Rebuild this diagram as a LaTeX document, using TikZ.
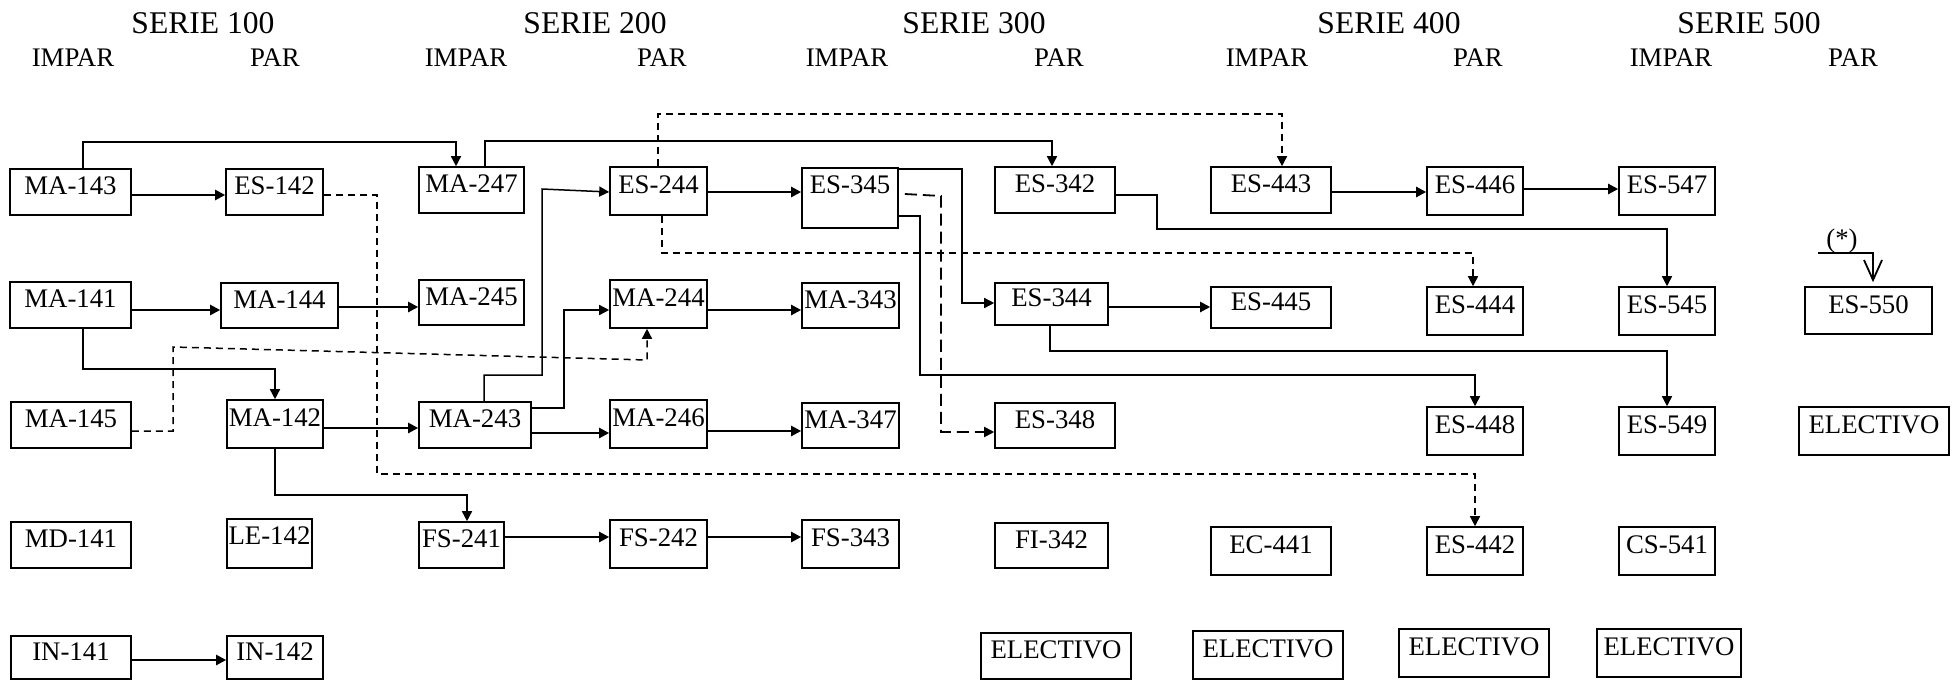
\documentclass[tikz,border=0pt]{standalone}
\usepackage{fontspec}
\setmainfont{Liberation Serif}
\usetikzlibrary{arrows.meta,calc}
\begin{document}
\begin{tikzpicture}[x=0.5pt,y=-0.5pt,
  cb/.style n args={4}{draw, line width=0.8pt, inner sep=0pt,
    font=\fontsize{13.4}{16}\selectfont, text depth=6pt,
    minimum width={(#3-#1)*0.5pt}, minimum height={(#4-#2)*0.5pt},
    at={({(#1+#3)/2},{(#2+#4)/2})}},
  hdr/.style={font=\fontsize{15.8}{18}\selectfont, inner sep=0pt},
  sub/.style={font=\fontsize{13.4}{16}\selectfont, inner sep=0pt},
  tip/.style={-{Triangle[length=5pt,width=5pt]}},
  arr/.style={line width=1.1pt, tip},
  conn/.style={line width=0.75pt, tip},
  dconn/.style={conn, dash pattern=on 3.5pt off 2.5pt},
  ldconn/.style={conn, line width=0.9pt, dash pattern=on 6pt off 3pt}]
\useasboundingbox (0,0) rectangle (1958,680);
% headers
\node[hdr] (h1) at (203,23) {SERIE 100};
\node[hdr] (h2) at (595,23) {SERIE 200};
\node[hdr] (h3) at (974,23) {SERIE 300};
\node[hdr] (h4) at (1389,23) {SERIE 400};
\node[hdr] (h5) at (1749,23) {SERIE 500};
\node[sub] (i1) at (73,58) {IMPAR};
\node[sub] (p1) at (275,58) {PAR};
\node[sub] (i2) at (466,58) {IMPAR};
\node[sub] (p2) at (662,58) {PAR};
\node[sub] (i3) at (847,58) {IMPAR};
\node[sub] (p3) at (1059,58) {PAR};
\node[sub] (i4) at (1267,58) {IMPAR};
\node[sub] (p4) at (1478,58) {PAR};
\node[sub] (i5) at (1671,58) {IMPAR};
\node[sub] (p5) at (1853,58) {PAR};
% row 1
\node[cb={10}{169}{131}{215}] (ma143) {MA-143};
\node[cb={226}{169}{323}{215}] (es142) {ES-142};
\node[cb={419}{167}{524}{213}] (ma247) {MA-247};
\node[cb={610}{167}{707}{215}] (es244) {ES-244};
\node[cb={802}{168}{898}{228},text depth=13pt] (es345) {ES-345};
\node[cb={995}{167}{1115}{213}] (es342) {ES-342};
\node[cb={1211}{167}{1331}{213}] (es443) {ES-443};
\node[cb={1427}{167}{1523}{215}] (es446) {ES-446};
\node[cb={1619}{167}{1715}{215}] (es547) {ES-547};
% row 2
\node[cb={10}{282}{131}{328}] (ma141) {MA-141};
\node[cb={221}{283}{338}{328}] (ma144) {MA-144};
\node[cb={419}{280}{524}{325}] (ma245) {MA-245};
\node[cb={610}{280}{707}{328}] (ma244) {MA-244};
\node[cb={802}{283}{899}{328}] (ma343) {MA-343};
\node[cb={995}{283}{1108}{325}] (es344) {ES-344};
\node[cb={1211}{287}{1331}{328}] (es445) {ES-445};
\node[cb={1427}{287}{1523}{335}] (es444) {ES-444};
\node[cb={1619}{287}{1715}{335}] (es545) {ES-545};
\node[cb={1805}{287}{1932}{334}] (es550) {ES-550};
% row 3
\node[cb={11}{402}{131}{448}] (ma145) {MA-145};
\node[cb={227}{400}{323}{448}] (ma142) {MA-142};
\node[cb={419}{402}{531}{448}] (ma243) {MA-243};
\node[cb={610}{400}{707}{448}] (ma246) {MA-246};
\node[cb={802}{403}{899}{448}] (ma347) {MA-347};
\node[cb={995}{403}{1115}{448}] (es348) {ES-348};
\node[cb={1427}{407}{1523}{455}] (es448) {ES-448};
\node[cb={1619}{407}{1715}{455}] (es549) {ES-549};
\node[cb={1799}{407}{1949}{455}] (el5p) {ELECTIVO};
% row 4
\node[cb={11}{522}{131}{568}] (md141) {MD-141};
\node[cb={227}{519}{312}{568},text depth=8pt] (le142) {LE-142};
\node[cb={419}{522}{504}{568}] (fs241) {FS-241};
\node[cb={610}{520}{707}{568}] (fs242) {FS-242};
\node[cb={802}{520}{899}{568}] (fs343) {FS-343};
\node[cb={995}{523}{1108}{568}] (fi342) {FI-342};
\node[cb={1211}{527}{1331}{575}] (ec441) {EC-441};
\node[cb={1427}{527}{1523}{575}] (es442) {ES-442};
\node[cb={1619}{527}{1715}{575}] (cs541) {CS-541};
% row 5
\node[cb={11}{636}{131}{679}] (in141) {IN-141};
\node[cb={227}{636}{323}{679}] (in142) {IN-142};
\node[cb={981}{633}{1131}{679}] (el3p) {ELECTIVO};
\node[cb={1193}{631}{1343}{679}] (el4i) {ELECTIVO};
\node[cb={1399}{629}{1549}{677}] (el4p) {ELECTIVO};
\node[cb={1597}{629}{1741}{677}] (el5i) {ELECTIVO};
% connectors
\draw[arr] (ma143.east |- 0,195) -- (es142.west |- 0,195);
\draw[conn] (83,0 |- ma143.north) |- (456,142) -- (456,0 |- ma247.north);
\draw[conn] (485,0 |- ma247.north) |- (1052,141) -- (1052,0 |- es342.north);
\draw[arr] (ma141.east |- 0,310) -- (ma144.west |- 0,310);
\draw[arr] (ma144.east |- 0,307) -- (ma245.west |- 0,307);
\draw[conn] (83,0 |- ma141.south) |- (275,369) -- (ma142.north);
\draw[dconn] (ma145.east |- 0,431) -| (173,347) -- (647,360) -- (647,0 |- ma244.south);
\draw[dconn] (es142.east |- 0,195) -| (377,474) -| (es442.north);
\draw[arr] (ma142.east |- 0,428) -- (ma243.west |- 0,428);
\draw[conn] (ma142.south) |- (467,495) -- (467,0 |- fs241.north);
\draw[conn] (484,0 |- ma243.north) |- (542,375) -- (542,189) -- (es244.west |- 0,192);
\draw[conn] (ma243.east |- 0,408) -| (564,310) -- (ma244.west |- 0,310);
\draw[arr] (ma243.east |- 0,433) -- (ma246.west |- 0,433);
\draw[arr] (es244.east |- 0,192) -- (es345.west |- 0,192);
\draw[dconn] (658,0 |- es244.north) |- (1282,114) -- (1282,0 |- es443.north);
\draw[dconn] (662,0 |- es244.south) |- (1473,253) -- (1473,0 |- es444.north);
\draw[arr] (ma244.east |- 0,310) -- (ma343.west |- 0,310);
\draw[arr] (ma246.east |- 0,431) -- (ma347.west |- 0,431);
\draw[arr] (fs241.east |- 0,537) -- (fs242.west |- 0,537);
\draw[arr] (fs242.east |- 0,537) -- (fs343.west |- 0,537);
\draw[conn] (es345.east |- 0,169) -| (962,303) -- (es344.west |- 0,303);
\draw[ldconn] ($(es345.east |- 0,194)+(6,0)$) -- (941,196) -- (941,432) -- (es348.west |- 0,432);
\draw[conn] (es345.east |- 0,216) -| (920,375) -| (es448.north);
\draw[conn] (es342.east |- 0,195) -| (1157,229) -| (es545.north);
\draw[arr] (es344.east |- 0,307) -- (es445.west |- 0,307);
\draw[conn] (1050,0 |- es344.south) -- (1050,351) -| (es549.north);
\draw[arr] (es443.east |- 0,192) -- (es446.west |- 0,192);
\draw[arr] (es446.east |- 0,189) -- (es547.west |- 0,189);
\draw[arr] (in141.east |- 0,660) -- (in142.west |- 0,660);
% (*)
\coordinate (stA) at (1818,253);
\node[sub] (star) at (1842,241) {(*)};
\draw[line width=0.9pt, -{Straight Barb[length=10pt,width=9pt]}] (stA) -| ($(es550.north)+(4.5,-4)$);
\end{tikzpicture}
\end{document}
